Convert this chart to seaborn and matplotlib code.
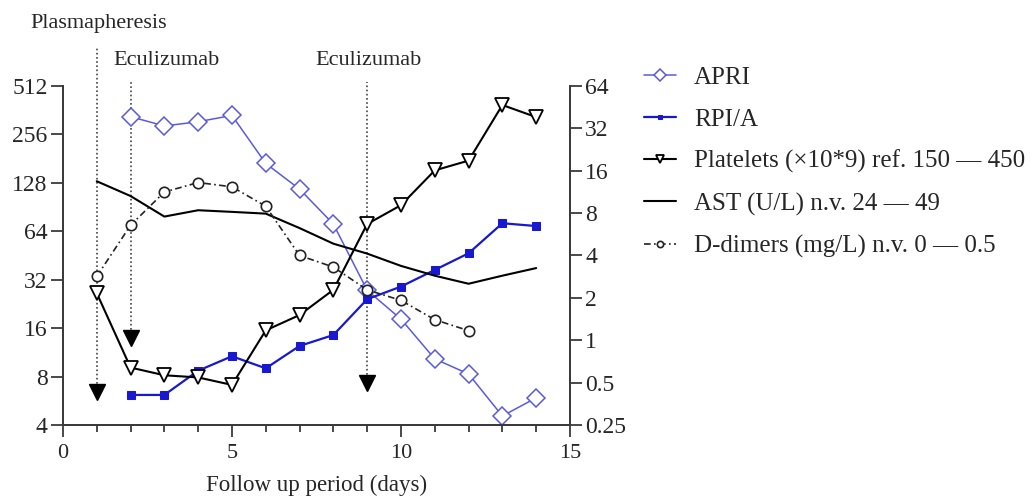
import numpy as np
import pandas as pd
import matplotlib
matplotlib.use("Agg")
import matplotlib.pyplot as plt
from matplotlib.ticker import FixedLocator, FixedFormatter, NullLocator
import seaborn as sns

# valeurs
days = list(range(1, 15))
apri_days = list(range(2, 15))
apri = [330, 289, 307, 336, 169, 117, 71, 27.5, 18.2, 10.3, 8.3, 4.55, 5.9]
rpia = [6.15, 6.15, 8.7, 10.7, 9.0, 12.4, 14.5, 24.2, 29, 36.8, 46.7, 71.8, 69]
platelets = [26.4, 9.1, 8.15, 7.9, 7.1, 15.5, 19.3, 27.7, 71, 93, 153, 176, 390, 328]
ast = [131, 106, 79, 86.5, 84.5, 82.4, 67, 53.6, 46.5, 39, 33.9, 30.2, 33.9, 37.8]
ddimer_days = list(range(1, 13))
ddimers = [2.84, 6.56, 11.3, 13.2, 12.3, 8.95, 4.0, 3.31, 2.28, 1.92, 1.4, 1.17]

# traitements (jour, niveau de la fleche, haut de la ligne)
treat_days = [1, 2, 9]
treat_arrow = [6.45, 13.8, 7.34]
treat_top = [880, 560, 540]
treat_labels = ["Plasmapheresis", "Eculizumab", "Eculizumab"]

left_ticks = [4, 8, 16, 32, 64, 128, 256, 512]
right_ticks = [0.25, 0.5, 1, 2, 4, 8, 16, 32, 64]
right_labels = ["0.25", "0.5", "1", "2", "4", "8", "16", "32", "64"]

sns.set_style("ticks")
plt.rcParams["font.family"] = ["Liberation Serif", "DejaVu Serif"]

fig = plt.figure(figsize=(10.32, 4.98), dpi=100)
ax = fig.add_axes([0.0610, 0.1466, 0.4913, 0.6807])
ax2 = ax.twinx()

apri_col = "#5a5ae0"
rpia_col = "#1818d0"
axis_col = "#3a3a3a"

sns.lineplot(x=apri_days, y=apri, ax=ax, color=apri_col, lw=1.1, marker="D",
             markersize=9.5, markerfacecolor="white", markeredgecolor=apri_col,
             markeredgewidth=1.1, label="APRI", legend=False)
sns.lineplot(x=apri_days, y=rpia, ax=ax, color=rpia_col, lw=1.6, marker="s",
             markersize=6, markerfacecolor=rpia_col, markeredgecolor=rpia_col,
             label="RPI/A", legend=False)
sns.lineplot(x=days, y=platelets, ax=ax, color="black", lw=1.5, marker="v",
             markersize=10.5, markerfacecolor="white", markeredgecolor="black",
             markeredgewidth=1.3, label="Platelets (\u00d710*9) ref. 150 \u2014 450", legend=False)
sns.lineplot(x=days, y=ast, ax=ax, color="black", lw=1.5,
             label="AST (U/L) n.v. 24 \u2014 49", legend=False)
sns.lineplot(x=ddimer_days, y=ddimers, ax=ax2, color="#222222", lw=1.2,
             linestyle=(0, (4, 2, 1, 2)), marker="o", markersize=7.5,
             markerfacecolor="white", markeredgecolor="#222222", markeredgewidth=1.2,
             label="D-dimers (mg/L) n.v. 0 \u2014 0.5", legend=False)

# lignes des traitements
for d, a, t in zip(treat_days, treat_arrow, treat_top):
    ax.plot([d, d], [a, t], color="#444444", lw=1.2, ls=(0, (1, 1.5)), clip_on=False, zorder=1)
    ax.plot([d], [a], marker="v", color="black", markersize=11, clip_on=False, zorder=5)

fig.text(0.029, 0.952, treat_labels[0], fontsize=16, ha="left", va="center")
fig.text(0.1095, 0.879, treat_labels[1], fontsize=16, ha="left", va="center")
fig.text(0.306, 0.879, treat_labels[2], fontsize=16, ha="left", va="center")

ax.set_yscale("log", base=2)
ax2.set_yscale("log", base=2)
ax.set_ylim(4, 512)
ax2.set_ylim(0.25, 64)
ax.set_xlim(0, 15)

ax.yaxis.set_major_locator(FixedLocator(left_ticks))
ax.yaxis.set_major_formatter(FixedFormatter([str(v) for v in left_ticks]))
ax.yaxis.set_minor_locator(NullLocator())
ax2.yaxis.set_major_locator(FixedLocator(right_ticks))
ax2.yaxis.set_major_formatter(FixedFormatter(right_labels))
ax2.yaxis.set_minor_locator(NullLocator())

ax.set_xticks([0, 5, 10, 15])
ax.set_xticks(range(0, 16), minor=True)

for a in (ax, ax2):
    a.tick_params(axis="y", which="major", labelsize=17, length=8.5, width=1.3,
                  color=axis_col, pad=2.5)
    for s in a.spines.values():
        s.set_linewidth(1.3)
        s.set_color(axis_col)
    a.spines["top"].set_visible(False)
ax.tick_params(axis="x", which="major", labelsize=16, length=8.5, width=1.3,
               color=axis_col, pad=5)
ax.tick_params(axis="x", which="minor", length=5, width=1.3, color=axis_col)

ax.set_xlabel("Follow up period (days)", fontsize=16.5, labelpad=9)
ax.set_ylabel("")
ax2.set_ylabel("")

h1, l1 = ax.get_legend_handles_labels()
h2, l2 = ax2.get_legend_handles_labels()
fig.legend(h1 + h2, l1 + l2, loc="upper left", bbox_to_anchor=(0.607, 0.902),
           frameon=False, fontsize=18, handlelength=1.3, labelspacing=0.77,
           handletextpad=0.7, markerscale=0.6, borderpad=0.2)

fig.savefig("out.png", dpi=100)
